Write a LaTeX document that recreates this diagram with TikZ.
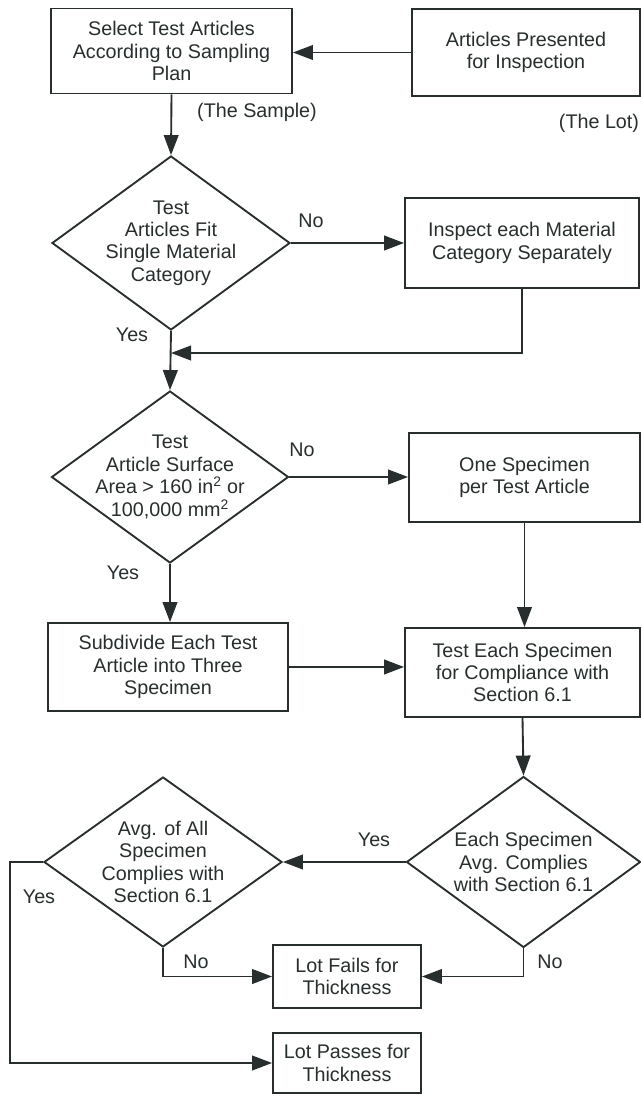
\documentclass[tikz,border=0pt]{standalone}
\usepackage{fontspec}
\setmainfont{Liberation Sans}
\usepackage{tikz}
\usetikzlibrary{shapes.geometric,arrows.meta}
\definecolor{ink}{RGB}{40,46,46}

\begin{document}
\begin{tikzpicture}[x=0.75pt,y=-0.75pt,
			every node/.style={text=ink,font=\fontsize{14.8}{16.8}\selectfont},
			box/.style={draw=ink,rectangle,line width=1.4pt,align=center,inner sep=0pt},
			decision/.style={draw=ink,diamond,line width=1.4pt,inner sep=0pt},
			dtext/.style={align=center,inner sep=0pt},
			flow/.style={draw=ink,line width=1.4pt,-{Triangle[length=15pt,width=11pt]}},]
		\fill[white] (0,0) rectangle (641,1096);
		\useasboundingbox (0,0) rectangle (641,1096);
		\node[box,minimum width=180.75pt,minimum height=63.75pt] (sel) at (171.5,51) {Select Test Articles\\According to Sampling\\Plan};
		\node[box,minimum width=171pt,minimum height=65.25pt] (lot) at (526,52.5) {Articles Presented\\for Inspection};
		\node (sample) at (257,112) {(The Sample)};
		\node (thelot) at (599,123) {(The Lot)};
		\node[decision,minimum width=178.5pt,minimum height=130.5pt,
			label={[dtext]center:{Test\\Articles Fit\\Single Material\\Category}}] (fit) at (171,243) {};
		\node[box,minimum width=175.5pt,minimum height=67.5pt] (insp) at (522,243) {Inspect each Material\\Category Separately};
		\coordinate (join) at (171,353);
		\node[decision,minimum width=177.75pt,minimum height=129pt,
			label={[dtext]center:{Test\\Article Surface\\Area > 160 in\textsuperscript{2} or\\100,000 mm\textsuperscript{2}}}] (area) at (170,477) {};
		\node[box,minimum width=173.25pt,minimum height=66.75pt] (one) at (524.5,477.5) {One Specimen\\per Test Article};
		\node[box,minimum width=180pt,minimum height=66pt] (sub) at (168,667) {Subdivide Each Test\\Article into Three\\Specimen};
		\node[box,minimum width=176.25pt,minimum height=66.75pt] (test) at (522.5,672.5) {Test Each Specimen\\for Compliance with\\Section 6.1};
		\node[decision,minimum width=175.5pt,minimum height=128.25pt,
			label={[dtext]center:{Each Specimen\\Avg. Complies\\with Section 6.1}}] (each) at (523.5,862) {};
		\node[decision,minimum width=178.5pt,minimum height=127.5pt,
			label={[dtext]center:{Avg. of All\\Specimen\\Complies with\\Section 6.1}}] (avg) at (163,862) {};
		\node[box,minimum width=111pt,minimum height=47.25pt] (fail) at (347,976.5) {Lot Fails for\\Thickness};
		\node[box,minimum width=111pt,minimum height=45pt] (pass) at (347,1063) {Lot Passes for\\Thickness};
		\coordinate (bend) at (10,862);
		\node (no1) at (311,221) {No};
		\node (yes1) at (132,335) {Yes};
		\node (no2) at (302,450) {No};
		\node (yes2) at (123,573) {Yes};
		\node (yes3) at (374,840) {Yes};
		\node (yes4) at (39,897) {Yes};
		\node (no3) at (196,962) {No};
		\node (no4) at (550,962) {No};
		\draw[flow] (lot.west) -- (sel.east |- lot.west);
		\draw[flow] (sel.south) -- (fit.north);
		\draw[flow] (fit.east) -- (insp.west);
		\draw[flow] (insp.south) |- (join);
		\draw[flow] (fit.south) -- (area.north);
		\draw[flow] (area.east) -- (area.east -| one.west);
		\draw[flow] (area.south) -- (area.south |- sub.north);
		\draw[flow] (one.south) -- (one.south |- test.north);
		\draw[flow] (sub.east) -- (sub.east -| test.west);
		\draw[flow] (test.south) -- (each.north);
		\draw[flow] (each.west) -- (avg.east);
		\draw[flow] (avg.west) -- (bend) |- (pass.west);
		\draw[flow] (avg.south) |- (fail.west);
		\draw[flow] (each.south) |- (fail.east);
\end{tikzpicture}
\end{document}
